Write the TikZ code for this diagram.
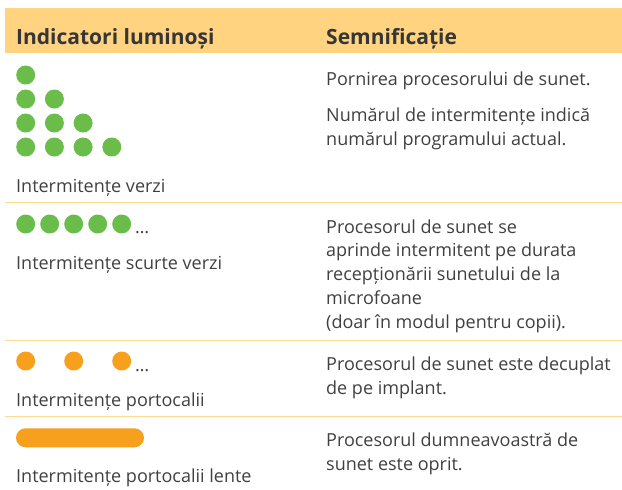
\documentclass[tikz,border=0pt]{standalone}
\usepackage{fontspec}
\setmainfont{Open Sans}
\usepackage{tikz}
\definecolor{bandorange}{HTML}{FFD380}
\definecolor{ruleorange}{HTML}{FFD98F}
\definecolor{ledgreen}{HTML}{6ABD4B}
\definecolor{ledorange}{HTML}{F6A01E}
\definecolor{txtgrey}{HTML}{404040}
\tikzset{
	hdr/.style={anchor=base west, inner sep=0pt, text=txtgrey!85!black, font=\fontsize{21}{25}\selectfont\bfseries},
	txt/.style={anchor=base west, inner sep=0pt, text=txtgrey, align=left, font=\fontsize{18}{23.8}\selectfont},
	gdot/.style={circle, fill=ledgreen, minimum size=19pt, inner sep=0pt},
	odot/.style={circle, fill=ledorange, minimum size=19pt, inner sep=0pt},
	sep/.style={ruleorange, line width=1.5pt}
}

\begin{document}
\begin{tikzpicture}[x=1pt,y=-1pt]
		\useasboundingbox (0,0) rectangle (622,490);
		\fill[bandorange] (5,8) rectangle (622,53);
		\node[hdr] (hleft) at (16,44) {Indicatori luminoși};
		\node[hdr] (hright) at (326,44) {Semnificație};
		%
		\coordinate (s1l) at (5,202.7);
		\coordinate (s1r) at (622,202.7);
		\coordinate (s2l) at (5,340.3);
		\coordinate (s2r) at (622,340.3);
		\coordinate (s3l) at (5,416.7);
		\coordinate (s3r) at (622,416.7);
		\draw[sep] (s1l) -- (s1r);
		\draw[sep] (s2l) -- (s2r);
		\draw[sep] (s3l) -- (s3r);
		%
		% multi-line texts sit on the baseline of their last line
		\foreach \r in {1,...,4}
		\foreach \c in {1,...,\r}
		\node[gdot] (g\r\c) at ({25.7+28.7*(\c-1)},{75+24*(\r-1)}) {};
		\node[txt] (lab1) at (16,192.7) {Intermitențe verzi};
		\node[txt] (mean1a) at (326,85.7) {Pornirea procesorului de sunet.};
		\node[txt] (mean1b) at (326,145.5) {Numărul de intermitențe indică\\numărul programului actual.};
		%
		\foreach \c in {1,...,5}
		\node[gdot] (s\c) at ({25.7+24*(\c-1)},224) {};
		\node[txt] (sdots) at (135,233.3) {\ldots};
		\node[txt] (lab2) at (16,269.3) {Intermitențe scurte verzi};
		\node[txt] (mean2) at (326,328.3) {Procesorul de sunet se\\aprinde intermitent pe durata\\recepționării sunetului de la\\microfoane\\(doar în modul pentru copii).};
		%
		\foreach \c in {1,...,3}
		\node[odot] (o\c) at ({25.7+48*(\c-1)},361) {};
		\node[txt] (odots) at (135,371.7) {\ldots};
		\node[txt] (lab3) at (16,406) {Intermitențe portocalii};
		\node[txt] (mean3) at (326,394) {Procesorul de sunet este decuplat\\de pe implant.};
		%
		\node[fill=ledorange, rounded corners=9.5pt, minimum width=128pt, minimum height=19pt, inner sep=0pt] (bar) at (80,437.8) {};
		\node[txt] (lab4) at (16,482) {Intermitențe portocalii lente};
		\node[txt] (mean4) at (326,470) {Procesorul dumneavoastră de\\sunet este oprit.};
\end{tikzpicture}
\end{document}
